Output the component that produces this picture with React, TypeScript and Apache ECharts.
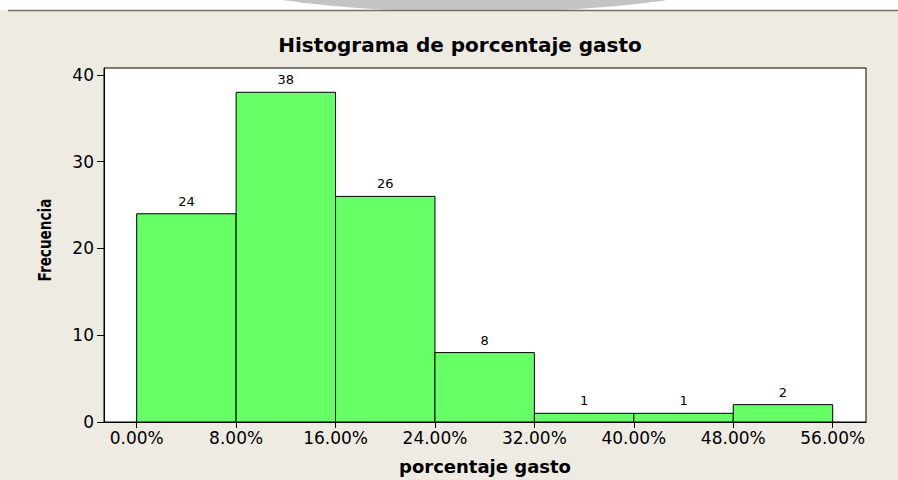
import React, { useEffect, useRef } from "react";
import * as echarts from "echarts";

const binStarts = [0, 8, 16, 24, 32, 40, 48];
const binWidth = 8;
const counts = [24, 38, 26, 8, 1, 1, 2];
const xTicks = [0, 8, 16, 24, 32, 40, 48, 56];
const yTicks = [0, 10, 20, 30, 40];
const titleText = "Histograma de porcentaje gasto";
const xName = "porcentaje gasto";
const yName = "Frecuencia";

export default function App() {
  const ref = useRef<HTMLDivElement>(null);
  useEffect(() => {
    document.body.style.margin = "0";
    const chart = echarts.init(ref.current!, null, { renderer: "svg" });
    const data = binStarts.map((s, i) => [s, s + binWidth, counts[i]]);
    chart.setOption({
      animation: false,
      backgroundColor: "#eeebe3",
      title: {
        text: titleText,
        left: 455,
        top: 30,
        textAlign: "center",
        textStyle: { fontFamily: "DejaVu Sans", fontWeight: "bold", fontSize: 20, color: "#000" },
      },
      graphic: [
        { type: "rect", shape: { x: 0, y: 0, width: 898, height: 10 }, style: { fill: "#ffffff" }, z: 1 },
        { type: "ellipse", shape: { cx: 475, cy: -28, rx: 269, ry: 40 }, style: { fill: "#c4c4c4" }, z: 2 },
        { type: "rect", shape: { x: 0, y: 10, width: 898, height: 8 }, style: { fill: "#eeebe3" }, z: 3 },
        { type: "line", shape: { x1: 8, y1: 10.5, x2: 898, y2: 10.5 }, style: { stroke: "#707070", lineWidth: 1.5 }, z: 4 },
        {
          type: "text",
          x: 45,
          y: 240,
          rotation: Math.PI / 2,
          scaleX: 0.84,
          z: 5,
          style: {
            text: yName,
            textAlign: "center",
            textVerticalAlign: "middle",
            fontFamily: "DejaVu Sans Condensed",
            fontWeight: "bold",
            fontSize: 18,
            fill: "#000",
          },
        },
      ],
      grid: {
        left: 104,
        top: 68,
        right: 32,
        bottom: 58,
        show: true,
        backgroundColor: "#ffffff",
        borderColor: "#000",
        borderWidth: 1,
      },
      xAxis: {
        type: "value",
        min: -2.63,
        max: 58.68,
        name: xName,
        nameLocation: "middle",
        nameGap: 35,
        nameTextStyle: { fontFamily: "DejaVu Sans", fontWeight: "bold", fontSize: 18, color: "#000" },
        axisLine: { show: true, onZero: false, lineStyle: { color: "#000", width: 1 } },
        axisTick: { show: true, customValues: xTicks, length: 6, lineStyle: { color: "#000" } },
        axisLabel: {
          customValues: xTicks,
          formatter: (v: number) => v.toFixed(2) + "%",
          fontFamily: "DejaVu Sans",
          fontSize: 17,
          color: "#000",
          margin: 7,
        },
        splitLine: { show: false },
      },
      yAxis: {
        type: "value",
        min: 0,
        max: 40.8,
        axisLine: { show: true, onZero: false, lineStyle: { color: "#000", width: 1 } },
        axisTick: { show: true, customValues: yTicks, length: 7, lineStyle: { color: "#000" } },
        axisLabel: {
          customValues: yTicks,
          fontFamily: "DejaVu Sans",
          fontSize: 17,
          color: "#000",
          margin: 10,
        },
        splitLine: { show: false },
      },
      series: [
        {
          type: "custom",
          data,
          encode: { x: [0, 1], y: 2 },
          renderItem: (params: any, api: any) => {
            const s = api.value(0);
            const e = api.value(1);
            const c = api.value(2);
            const p0 = api.coord([s, c]);
            const p1 = api.coord([e, 0]);
            return {
              type: "group",
              children: [
                {
                  type: "rect",
                  shape: { x: p0[0], y: p0[1], width: p1[0] - p0[0], height: p1[1] - p0[1] },
                  style: { fill: "#66ff66", stroke: "#000", lineWidth: 1 },
                },
                {
                  type: "text",
                  x: (p0[0] + p1[0]) / 2,
                  y: p0[1] - 6,
                  style: {
                    text: String(c),
                    textAlign: "center",
                    textVerticalAlign: "bottom",
                    fontFamily: "DejaVu Sans",
                    fontSize: 13,
                    fill: "#000",
                  },
                },
              ],
            };
          },
        },
      ],
    });
    return () => chart.dispose();
  }, []);
  return <div ref={ref} style={{ width: 898, height: 480 }} />;
}
